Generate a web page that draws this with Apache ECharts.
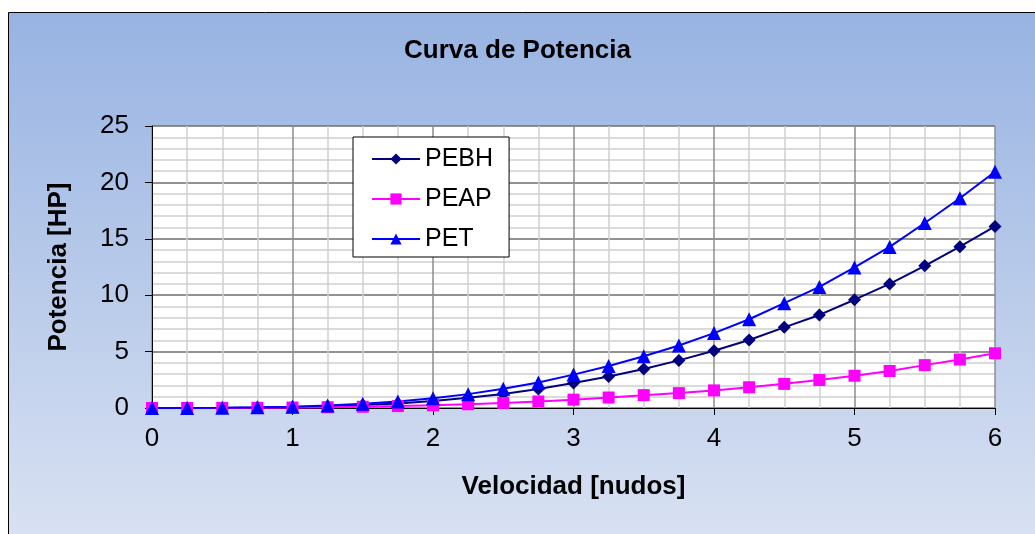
<!DOCTYPE html>
<html>
<head>
<meta charset="utf-8">
<title>Curva de Potencia</title>
<script src="https://cdn.jsdelivr.net/npm/echarts@6/dist/echarts.min.js"></script>
<style>
  html, body { margin: 0; padding: 0; background: #fff; }
  #main { width: 1035px; height: 534px; }
</style>
</head>
<body>
<div id="main"></div>
<script>
// velocidad [nudos]
var velocidad = [0, 0.25, 0.5, 0.75, 1, 1.25, 1.5, 1.75, 2, 2.25, 2.5, 2.75, 3,
                 3.25, 3.5, 3.75, 4, 4.25, 4.5, 4.75, 5, 5.25, 5.5, 5.75, 6];
var pebh = [0, 0, 0.01, 0.04, 0.08, 0.15, 0.26, 0.4, 0.62, 0.9, 1.25, 1.68, 2.22,
            2.8, 3.45, 4.22, 5.08, 6.03, 7.15, 8.25, 9.6, 11.0, 12.6, 14.3, 16.1];
var peap = [0, 0, 0.01, 0.02, 0.04, 0.07, 0.11, 0.17, 0.24, 0.33, 0.45, 0.58, 0.74,
            0.93, 1.14, 1.32, 1.56, 1.84, 2.14, 2.48, 2.86, 3.28, 3.8, 4.3, 4.85];
var pet = [0, 0, 0.02, 0.06, 0.12, 0.22, 0.37, 0.57, 0.86, 1.23, 1.7, 2.26, 2.96,
           3.73, 4.59, 5.54, 6.64, 7.87, 9.29, 10.73, 12.46, 14.28, 16.4, 18.6, 20.95];

function pares(ys) {
    var out = [];
    for (var i = 0; i < velocidad.length; i++) out.push([velocidad[i], ys[i]]);
    return out;
}

var font = 'Liberation Sans, Arial, sans-serif';
var myChart = echarts.init(document.getElementById('main'));

var option = {
    animation: false,
    textStyle: { fontFamily: font },
    graphic: [{
        type: 'rect',
        z: -10,
        shape: { x: 8.5, y: 12.5, width: 1100, height: 600 },
        style: {
            fill: new echarts.graphic.LinearGradient(0, 0, 0, 1, [
                { offset: 0, color: '#98b3e2' },
                { offset: 0.5, color: '#bccdeb' },
                { offset: 1, color: '#e2e8f5' }
            ]),
            stroke: '#000',
            lineWidth: 1
        }
    }],
    title: {
        text: 'Curva de Potencia',
        left: 'center',
        top: 33,
        textStyle: { fontFamily: font, fontSize: 26, fontWeight: 'bold', color: '#000' }
    },
    legend: {
        orient: 'vertical',
        left: 353,
        top: 137,
        padding: [8, 16, 4, 18],
        itemGap: 12,
        itemWidth: 48,
        itemHeight: 14,
        backgroundColor: '#fff',
        borderColor: '#000',
        borderWidth: 1,
        textStyle: { fontFamily: font, fontSize: 25, color: '#000', lineHeight: 28 },
        data: ['PEBH', 'PEAP', 'PET']
    },
    grid: {
        left: 152, right: 40, top: 126, bottom: 126,
        show: true, backgroundColor: '#fff', borderWidth: 0
    },
    xAxis: {
        type: 'value',
        min: 0, max: 6, interval: 1,
        name: 'Velocidad [nudos]',
        nameLocation: 'middle',
        nameGap: 66,
        nameTextStyle: { fontFamily: font, fontSize: 26, fontWeight: 'bold', color: '#000' },
        axisLine: { show: true, lineStyle: { color: '#000', width: 1 } },
        axisTick: { show: true, length: 7, lineStyle: { color: '#000' } },
        axisLabel: { fontFamily: font, fontSize: 26, color: '#000', margin: 18 },
        splitLine: { show: true, lineStyle: { color: '#8c8c8c', width: 1.5 } },
        minorTick: { show: false, splitNumber: 4 },
        minorSplitLine: { show: true, lineStyle: { color: '#d0d0d0', width: 1.5 } }
    },
    yAxis: {
        type: 'value',
        min: 0, max: 25, interval: 5,
        name: 'Potencia [HP]',
        nameLocation: 'middle',
        nameGap: 80,
        nameTextStyle: { fontFamily: font, fontSize: 26, fontWeight: 'bold', color: '#000' },
        axisLine: { show: true, lineStyle: { color: '#000', width: 1 } },
        axisTick: { show: true, length: 7, lineStyle: { color: '#000' } },
        axisLabel: { fontFamily: font, fontSize: 26, color: '#000', margin: 23 },
        splitLine: { show: true, lineStyle: { color: '#6e6e6e', width: 1.5 } },
        minorTick: { show: false, splitNumber: 5 },
        minorSplitLine: { show: true, lineStyle: { color: '#d0d0d0', width: 1.5 } }
    },
    series: [{
        name: 'PEBH',
        type: 'line',
        data: pares(pebh),
        symbol: 'diamond',
        symbolSize: 13,
        color: '#000080',
        lineStyle: { width: 2, color: '#000080' },
        itemStyle: { color: '#000080' }
    }, {
        name: 'PEAP',
        type: 'line',
        data: pares(peap),
        symbol: 'rect',
        symbolSize: 12,
        color: '#ff00ff',
        lineStyle: { width: 2, color: '#ff00ff' },
        itemStyle: { color: '#ff00ff' }
    }, {
        name: 'PET',
        type: 'line',
        data: pares(pet),
        symbol: 'triangle',
        symbolSize: 14,
        color: '#0000ff',
        lineStyle: { width: 2, color: '#0000ff' },
        itemStyle: { color: '#0000ff' }
    }]
};

myChart.setOption(option);
</script>
</body>
</html>
